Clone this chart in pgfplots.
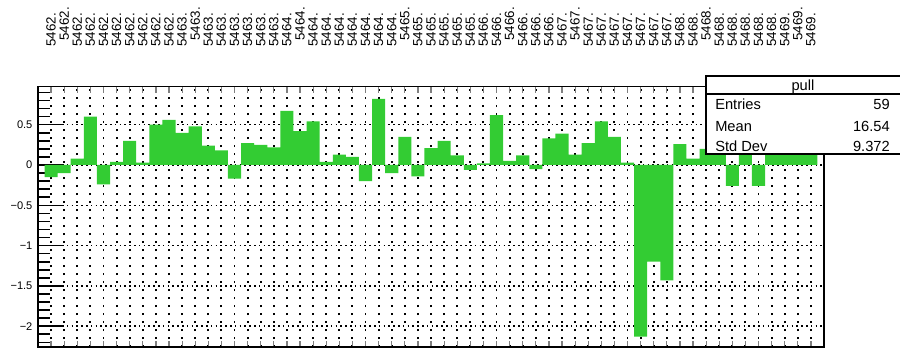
\documentclass[border=0pt]{standalone}
\usepackage{fontspec}
\setmainfont{Liberation Sans}
\usepackage{pgfplots}
\pgfplotsset{compat=1.18}
\definecolor{rootgreen}{RGB}{51,204,51}
\newcommand{\up}{\hspace*{4.5pt}}

\begin{document}
\begin{tikzpicture}
\path[use as bounding box] (0,0) rectangle (675pt,265.5pt);
\begin{axis}[
  at={(28.5pt,5.25pt)}, anchor=south west,
  scale only axis, width=589.5pt, height=195.2pt,
  xmin=0, xmax=60, ymin=-2.258, ymax=0.971,
  axis line style={line width=1pt},
  tick align=inside,
  major tick length=4.5pt,
  xtick pos=both, ytick pos=left,
  xtick={1,...,59},
  xticklabel pos=upper,
  xticklabels={5462.,\up 5462.,5462.,5462.,5462.,5462.,5462.,5462.,5462.,5462.,
    5463.,\up 5463.,5463.,5463.,5463.,5463.,5463.,5463.,
    5464.,\up 5464.,5464.,5464.,5464.,5464.,5464.,5464.,5464.,
    \up 5465.,5465.,5465.,5465.,5465.,5465.,
    5466.,5466.,\up 5466.,5466.,5466.,5466.,
    5467.,\up 5467.,5467.,5467.,5467.,5467.,5467.,5467.,5467.,
    5468.,5468.,\up 5468.,5468.,5468.,5468.,5468.,5468.,
    5469.,\up 5469.,5469.},
  xticklabel shift=30pt,
  xticklabel style={rotate=90, anchor=west, inner sep=0pt,
    font=\fontsize{10}{10}\selectfont},
  xtick style={line width=0.9pt},
  ytick={-2,-1.5,-1,-0.5,0,0.5},
  yticklabels={−2,−1.5,−1,−0.5,0,0.5},
  yticklabel style={font=\fontsize{8.3}{9}\selectfont, inner sep=0pt},
  yticklabel shift=4pt,
  ytick style={draw=none},
  xmajorgrids, ymajorgrids,
  major x grid style={black, line width=1.4pt, dash pattern=on 1.3pt off 4.7pt},
  major y grid style={black, line width=1.2pt, dash pattern=on 1.2pt off 2.4pt},
]
% y ticks (long majors, shorter minors), drawn inside the frame
\pgfplotsinvokeforeach{-2,-1.5,-1,-0.5,0,0.5}{
  \draw[line width=1.2pt] (axis cs:0,#1) -- ++(18.75pt,0pt);}
\pgfplotsinvokeforeach{-2.2,-2.1,-1.9,-1.8,-1.7,-1.6,-1.4,-1.3,-1.2,-1.1,
  -0.9,-0.8,-0.7,-0.6,-0.4,-0.3,-0.2,-0.1,0.1,0.2,0.3,0.4,0.6,0.7,0.8,0.9}{
  \draw[line width=1.2pt] (axis cs:0,#1) -- ++(9pt,0pt);}
\addplot[ybar, bar width=1, bar shift=0pt, fill=rootgreen, draw=none] coordinates {
  (1,-0.15) (2,-0.10) (3,0.08) (4,0.60) (5,-0.24) (6,0.04) (7,0.30) (8,0.03)
  (9,0.50) (10,0.56) (11,0.40) (12,0.48) (13,0.24) (14,0.18) (15,-0.17)
  (16,0.27) (17,0.25) (18,0.22) (19,0.67) (20,0.42) (21,0.54) (22,0.04)
  (23,0.13) (24,0.10) (25,-0.20) (26,0.82) (27,-0.10) (28,0.35) (29,-0.14)
  (30,0.21) (31,0.30) (32,0.12) (33,-0.06) (34,0.02) (35,0.62) (36,0.05)
  (37,0.12) (38,-0.05) (39,0.33) (40,0.39) (41,0.13) (42,0.27) (43,0.54)
  (44,0.35) (45,0.03) (46,-2.13) (47,-1.20) (48,-1.43) (49,0.26) (50,0.08)
  (51,0.20) (52,0.22) (53,-0.26) (54,0.20) (55,-0.26) (56,0.20) (57,0.18)
  (58,0.20) (59,0.15)
};
\end{axis}
% statistics box
\draw[line width=1pt, fill=white] (529.5pt,150pt) rectangle (677pt,208.5pt);
\draw[line width=1pt] (529.5pt,195pt) -- (677pt,195pt);
\begin{scope}[every node/.style={inner sep=0pt, font=\fontsize{11}{12}\selectfont}]
\node[anchor=base] at (602.25pt,197.6pt) {pull};
\node[anchor=base west] at (536.25pt,183pt) {Entries};
\node[anchor=base east] at (667.5pt,183pt) {59};
\node[anchor=base west] at (536.25pt,166.7pt) {Mean};
\node[anchor=base east] at (667.5pt,166.7pt) {16.54};
\node[anchor=base west] at (536.25pt,151.7pt) {Std Dev};
\node[anchor=base east] at (667.5pt,151.7pt) {9.372};
\end{scope}
\end{tikzpicture}
\end{document}
